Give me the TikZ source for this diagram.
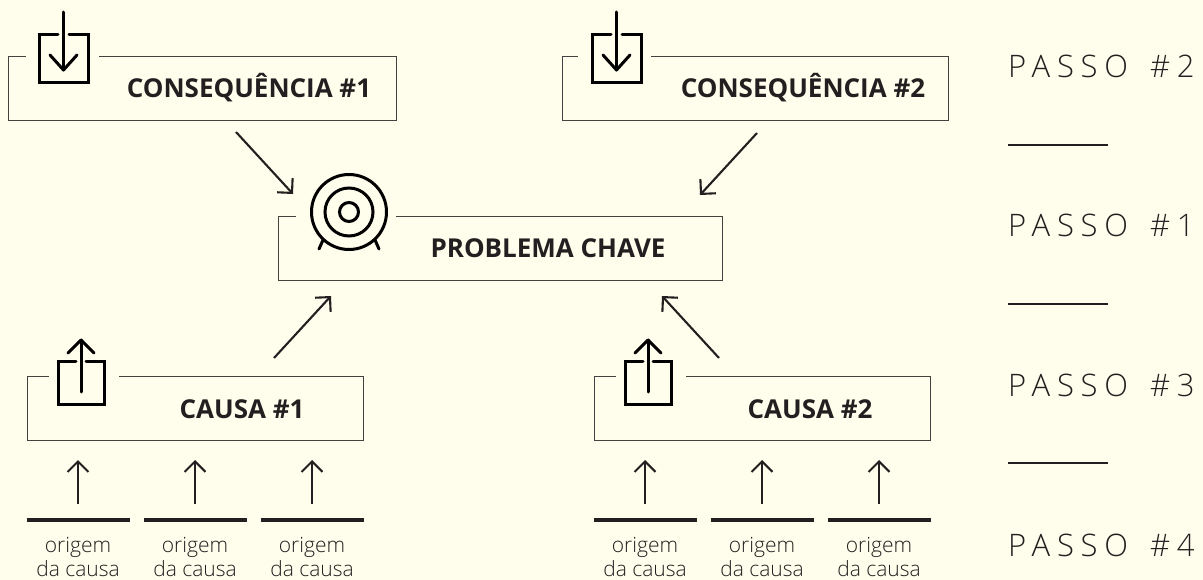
\documentclass[tikz,border=0pt]{standalone}
\usepackage{fontspec}
\setmainfont{Open Sans}
\newfontfamily\lightf{Open Sans Light}
\newfontfamily\lightsp[LetterSpace=22]{Open Sans Light}
\usetikzlibrary{arrows.meta}
\definecolor{bg}{HTML}{FFFDEB}
\definecolor{ink}{HTML}{231F20}
\tikzset{
 x=1pt,y=-1pt,
 panel/.style={draw=ink!85,line width=1.4pt,minimum width=#1,minimum height=64pt,inner sep=0pt,anchor=north west},
 gapline/.style={draw=bg,line width=3pt},
 title/.style={font=\fontsize{26}{30}\selectfont\bfseries,text=ink,inner sep=0pt,anchor=base},
 flow/.style={draw=ink,line width=2.1pt,-{Straight Barb[length=10.5pt,width=21pt,line width=2.1pt]}},
 icon/.style={draw=black,line width=3pt,line cap=round,line join=miter},
 bar/.style={draw=ink,line width=4pt},
 origem/.style={font=\lightf\fontsize{21}{24}\selectfont,text=ink,align=center,inner sep=0pt,anchor=north},
 passo/.style={font=\lightsp\fontsize{31}{34}\selectfont,text=ink,inner sep=0pt,anchor=base west},
 sep/.style={draw=ink,line width=1.2pt},
}
\begin{document}
\begin{tikzpicture}
\useasboundingbox[fill=bg] (0,0) rectangle (1203,580);
% panels
\node[panel=387.5pt] (c1) at (8,56) {};
\node[panel=386pt] (c2) at (562,56) {};
\node[panel=444.5pt] (pk) at (277.5,216) {};
\node[panel=336pt] (k1) at (27,375.5) {};
\node[panel=336pt] (k2) at (594,375.5) {};
\draw[gapline] (26,56) -- (99,56);
\draw[gapline] (578,56) -- (651,56);
\draw[gapline] (296,216) -- (396,216);
\draw[gapline] (49,375.5) -- (119,375.5);
\draw[gapline] (616,375.5) -- (686,375.5);
% titles
\node[title] (t1) at (249,98) {CONSEQUÊNCIA \#1};
\node[title] (t2) at (803,98) {CONSEQUÊNCIA \#2};
\node[title] (t3) at (548,258) {PROBLEMA CHAVE};
\node[title] (t4) at (242,418) {CAUSA \#1};
\node[title] (t5) at (810,418) {CAUSA \#2};
% flow arrows
\coordinate (a1s) at (236,132); \coordinate (a1e) at (293,194);
\coordinate (a2s) at (757,133); \coordinate (a2e) at (700,195);
\coordinate (a3s) at (274,358); \coordinate (a3e) at (331,296);
\coordinate (a4s) at (719,358); \coordinate (a4e) at (662,296);
\draw[flow] (a1s) -- (a1e);
\draw[flow] (a2s) -- (a2e);
\draw[flow] (a3s) -- (a3e);
\draw[flow] (a4s) -- (a4e);
% download icons
\foreach \dx in {0,553}{
 \begin{scope}[xshift=\dx]
 \draw[icon] (58,35) -- (39,35) -- (39,83) -- (88,83) -- (88,35) -- (69,35);
 \draw[icon] (63.5,12) -- (63.5,70);
 \draw[icon,line join=round] (50,55) -- (63.5,70) -- (77,55);
 \end{scope}
}
% upload icons
\foreach \dx in {0,567}{
 \begin{scope}[xshift=\dx]
 \draw[icon] (76,361.5) -- (58,361.5) -- (58,404) -- (104.5,404) -- (104.5,361.5) -- (86,361.5);
 \draw[icon] (81,392) -- (81,340);
 \draw[icon,line join=round] (68,353) -- (81,340) -- (94,353);
 \end{scope}
}
% target
\draw[icon] (349,212) circle[radius=37.5];
\draw[icon] (349,212) circle[radius=24];
\draw[icon] (349,212) circle[radius=9.5];
\draw[icon] (323,240) -- (319,249);
\draw[icon] (375,240) -- (379,249);
% origins
\foreach \cx/\nm in {78/a,195/b,312/c,645/d,762/e,879/f}{
 \coordinate (u\nm s) at (\cx,504);
 \coordinate (u\nm e) at (\cx,460);
 \draw[flow] (u\nm s) -- (u\nm e);
 \coordinate (b\nm l) at (\cx-51.5,519.5);
 \coordinate (b\nm r) at (\cx+51.5,519.5);
 \draw[bar] (b\nm l) -- (b\nm r);
 \node[origem] (o\nm) at (\cx,537.5) {origem\\da causa};
}
% steps
\node[passo] (p2) at (1008,78) {PASSO\hspace{7pt} \#2};
\node[passo] (p1) at (1008,237) {PASSO\hspace{7pt} \#1};
\node[passo] (p3) at (1008,396.5) {PASSO\hspace{7pt} \#3};
\node[passo] (p4) at (1008,556) {PASSO\hspace{7pt} \#4};
\coordinate (s1a) at (1008,145); \coordinate (s1b) at (1108,145);
\coordinate (s2a) at (1008,304); \coordinate (s2b) at (1108,304);
\coordinate (s3a) at (1008,463); \coordinate (s3b) at (1108,463);
\draw[sep] (s1a) -- (s1b);
\draw[sep] (s2a) -- (s2b);
\draw[sep] (s3a) -- (s3b);
\end{tikzpicture}
\end{document}
